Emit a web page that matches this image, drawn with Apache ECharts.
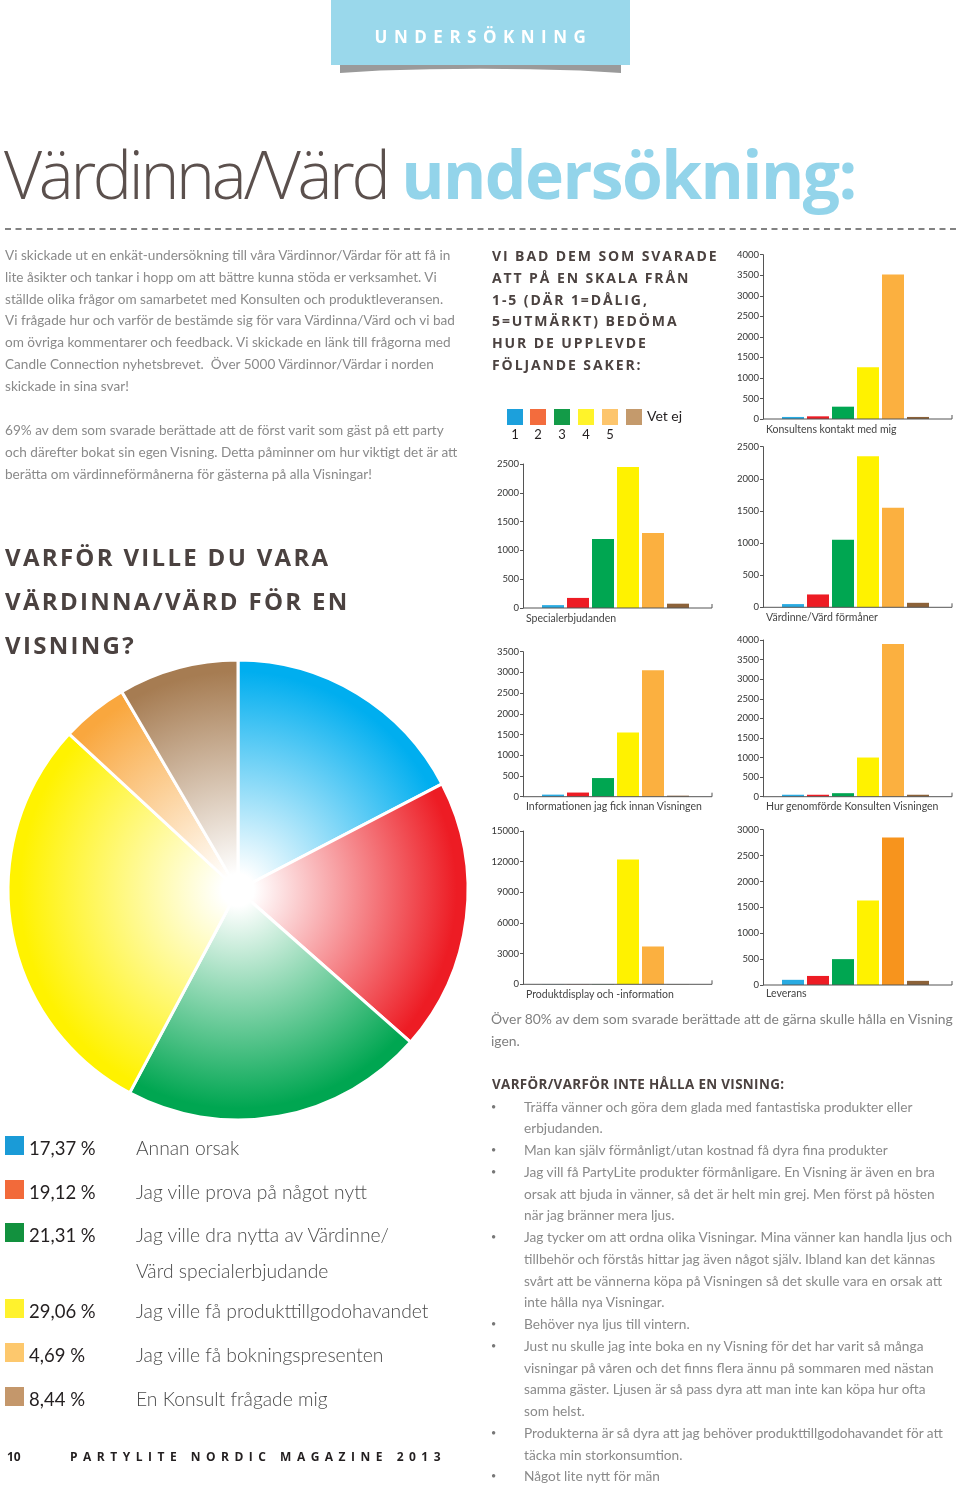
<!DOCTYPE html>
<html><head><meta charset="utf-8">
<script src="https://cdn.jsdelivr.net/npm/echarts@6/dist/echarts.min.js"></script>
<style>
body{margin:0;width:960px;height:1485px;position:relative;background:#fff;overflow:hidden;font-family:'Lato','Open Sans',sans-serif;}
#chart{position:absolute;left:0;top:0;width:960px;height:1485px;}
.t{position:absolute;white-space:pre;z-index:2;}
.body{font-family:'Lato',sans-serif;font-weight:400;color:#8a8a8a;}
.head{font-family:'Open Sans',sans-serif;font-weight:700;color:#4b4240;}
.sq{position:absolute;z-index:2;}
</style>
</head><body>
<div id="chart"></div>

<div class="t head" style="left:331px;top:24px;width:299px;text-align:center;font-size:17px;line-height:26px;letter-spacing:6.5px;color:#fff;text-indent:6px">UNDERSÖKNING</div>
<div class="t" style="left:4px;top:131px;font-size:66px;line-height:84px;font-family:'Open Sans',sans-serif;"><span style="font-weight:300;color:#5b504d;letter-spacing:-3.3px">Värdinna/Värd </span><span style="font-weight:700;color:#93d4ea;letter-spacing:-1.6px">undersökning:</span></div>

<div class="t body" style="left:5px;top:245px;font-size:13.6px;line-height:21.8px">Vi skickade ut en enkät-undersökning till våra Värdinnor/Värdar för att få in
lite åsikter och tankar i hopp om att bättre kunna stöda er verksamhet. Vi
ställde olika frågor om samarbetet med Konsulten och produktleveransen.
Vi frågade hur och varför de bestämde sig för vara Värdinna/Värd och vi bad
om övriga kommentarer och feedback. Vi skickade en länk till frågorna med
Candle Connection nyhetsbrevet.  Över 5000 Värdinnor/Värdar i norden
skickade in sina svar!</div>
<div class="t body" style="left:5px;top:420px;font-size:13.6px;line-height:21.8px">69% av dem som svarade berättade att de först varit som gäst på ett party
och därefter bokat sin egen Visning. Detta påminner om hur viktigt det är att
berätta om värdinneförmånerna för gästerna på alla Visningar!</div>

<div class="t head" style="left:5px;top:535px;font-size:24px;line-height:44px;letter-spacing:2.3px">VARFÖR VILLE DU VARA
VÄRDINNA/VÄRD FÖR EN
VISNING?</div>

<div class="t head" style="left:492px;top:245px;font-size:14px;line-height:21.8px;letter-spacing:1.9px">VI BAD DEM SOM SVARADE
ATT PÅ EN SKALA FRÅN
1-5 (DÄR 1=DÅLIG,
5=UTMÄRKT) BEDÖMA
HUR DE UPPLEVDE
FÖLJANDE SAKER:</div>

<div id="scaleLegend"></div>
<div id="barLabels"></div>

<div class="t body" style="left:491px;top:1008px;font-size:13.9px;line-height:22px;color:#808080">Över 80% av dem som svarade berättade att de gärna skulle hålla en Visning
igen.</div>
<div class="t head" style="left:492px;top:1074px;font-size:13.4px;line-height:20px;letter-spacing:0.35px">VARFÖR/VARFÖR INTE HÅLLA EN VISNING:</div>
<div id="reasons"></div>

<div id="pieLegend"></div>

<div class="t head" style="left:7px;top:1448px;font-size:12px;line-height:18px;color:#231f20">10</div>
<div class="t head" style="left:70px;top:1448px;font-size:12px;line-height:18px;letter-spacing:5.5px;color:#231f20">PARTYLITE NORDIC MAGAZINE 2013</div>

<script>
// ---------- DATA ----------
const scaleCategories = ['1', '2', '3', '4', '5', 'Vet ej'];
const konsultensKontakt = [50, 65, 300, 1260, 3520, 50];
const specialerbjudanden = [50, 175, 1200, 2450, 1300, 75];
const vardinneFormaner = [50, 200, 1050, 2350, 1550, 70];
const informationen = [50, 100, 450, 1550, 3050, 25];
const hurGenomforde = [50, 50, 90, 1000, 3900, 50];
const produktdisplay = [20, 20, 30, 12200, 3700, 20];
const leverans = [100, 175, 500, 1630, 2850, 80];
const barChartTitles = ['Konsultens kontakt med mig', 'Specialerbjudanden', 'Värdinne/Värd förmåner',
  'Informationen jag fick innan Visningen', 'Hur genomförde Konsulten Visningen',
  'Produktdisplay och -information', 'Leverans'];
const axisMaxima = [4000, 2500, 2500, 3500, 4000, 15000, 3000];
const axisSteps = [500, 500, 500, 500, 500, 3000, 500];

const pieNames = ['Annan orsak', 'Jag ville prova på något nytt',
  'Jag ville dra nytta av Värdinne/\nVärd specialerbjudande', 'Jag ville få produkttillgodohavandet',
  'Jag ville få bokningspresenten', 'En Konsult frågade mig'];
const piePercent = [17.37, 19.12, 21.31, 29.06, 4.69, 8.44];

const reasons = [
  ['Träffa vänner och göra dem glada med fantastiska produkter eller', 'erbjudanden.'],
  ['Man kan själv förmånligt/utan kostnad få dyra fina produkter'],
  ['Jag vill få PartyLite produkter förmånligare. En Visning är även en bra', 'orsak att bjuda in vänner, så det är helt min grej. Men först på hösten', 'när jag bränner mera ljus.'],
  ['Jag tycker om att ordna olika Visningar. Mina vänner kan handla ljus och', 'tillbehör och förstås hittar jag även något själv. Ibland kan det kännas', 'svårt att be vännerna köpa på Visningen så det skulle vara en orsak att', 'inte hålla nya Visningar.'],
  ['Behöver nya ljus till vintern.'],
  ['Just nu skulle jag inte boka en ny Visning för det har varit så många', 'visningar på våren och det finns flera ännu på sommaren med nästan', 'samma gäster. Ljusen är så pass dyra att man inte kan köpa hur ofta', 'som helst.'],
  ['Produkterna är så dyra att jag behöver produkttillgodohavandet för att', 'täcka min storkonsumtion.'],
  ['Något lite nytt för män']
];

// ---------- STYLE / LAYOUT ----------
const barColors = ['#29abe2', '#ed1c24', '#00a651', '#fff200', '#fbb040', '#8c6239'];
const leveransColors = ['#29abe2', '#ed1c24', '#00a651', '#fff200', '#f7941d', '#8c6239'];
const scaleLegendColors = ['#1ca0dc', '#f36c3d', '#139b48', '#fff32a', '#fdc56c', '#c49a6c'];
const pieColors = ['#00aeef', '#ed1c24', '#00a651', '#fff200', '#f9a73e', '#a67c52'];
const pieLegendColors = ['#1a9bd7', '#f26a3a', '#12913e', '#fff22d', '#fdc86d', '#c4976b'];

const panelData = [konsultensKontakt, specialerbjudanden, vardinneFormaner, informationen, hurGenomforde, produktdisplay, leverans];
const panels = [
  {axisX: 763, top: 254.7, zero: 419, labelY: 429},
  {axisX: 523, top: 464, zero: 608, labelY: 618},
  {axisX: 763, top: 446.7, zero: 607.3, labelY: 617},
  {axisX: 523, top: 651.7, zero: 796.7, labelY: 806},
  {axisX: 763, top: 640, zero: 796.7, labelY: 806},
  {axisX: 523, top: 831, zero: 984.3, labelY: 994},
  {axisX: 763, top: 829.7, zero: 985, labelY: 993}
];
const AXIS_LEN = 189, LEAD = 17.5, SLOT_W = 150;

const chart = echarts.init(document.getElementById('chart'), null, {renderer: 'canvas'});
const grids = [], xAxes = [], yAxes = [], series = [], graphics = [];

// header decorations
graphics.push({type: 'polygon', shape: {points: [[340, 63], [621, 63], [621, 73], [580, 70.5], [530, 69.2], [480, 68.8], [430, 69.2], [380, 70.5], [340, 73]]}, style: {fill: '#9a9a9a'}, z: 1});
graphics.push({type: 'rect', shape: {x: 331, y: 0, width: 299, height: 65}, style: {fill: '#9ad8eb'}, z: 2});
graphics.push({type: 'line', shape: {x1: 5, y1: 229, x2: 956, y2: 229}, style: {stroke: '#5a5a5a', lineWidth: 1.3, lineDash: [6, 4.5]}, z: 1});

panels.forEach((p, i) => {
  grids.push({left: p.axisX + LEAD, top: p.top, width: SLOT_W, height: p.zero - p.top, outerBoundsMode: 'none', containLabel: false});
  xAxes.push({gridIndex: i, type: 'category', data: scaleCategories, axisLine: {show: false}, axisTick: {show: false}, axisLabel: {show: false}, splitLine: {show: false}});
  yAxes.push({gridIndex: i, type: 'value', min: 0, max: axisMaxima[i], interval: axisSteps[i], offset: LEAD,
    axisLine: {show: true, lineStyle: {color: '#555', width: 1}},
    axisTick: {show: true, length: 3, lineStyle: {color: '#555'}},
    axisLabel: {fontSize: 9.5, color: '#333', margin: 4, fontFamily: 'Lato', formatter: v => String(v)},
    splitLine: {show: false}});
  const cols = i === 6 ? leveransColors : barColors;
  series.push({type: 'bar', xAxisIndex: i, yAxisIndex: i, data: panelData[i], barWidth: 22, silent: true,
    itemStyle: {color: prm => cols[prm.dataIndex]}});
  graphics.push({type: 'polyline', shape: {points: [[p.axisX, p.zero], [p.axisX + AXIS_LEN, p.zero], [p.axisX + AXIS_LEN, p.zero - 4]]},
    style: {stroke: '#555', lineWidth: 1, fill: null}, z: 5});
});

const PIE_C = [238, 890], PIE_R = 230;
series.push({type: 'pie', center: PIE_C, radius: PIE_R, startAngle: 90, clockwise: true, silent: true,
  label: {show: false}, labelLine: {show: false},
  itemStyle: {borderColor: '#fff', borderWidth: 3},
  data: piePercent.map((v, i) => ({value: v, name: pieNames[i], itemStyle: {
    color: {type: 'radial', x: PIE_C[0], y: PIE_C[1], r: PIE_R, global: true,
      colorStops: [{offset: 0, color: '#ffffff'}, {offset: 0.07, color: '#ffffff'}, {offset: 0.95, color: pieColors[i]}, {offset: 1, color: pieColors[i]}]}}}))
});

chart.setOption({animation: false, grid: grids, xAxis: xAxes, yAxis: yAxes, series: series, graphic: graphics});

// ---------- HTML TEXT / LEGENDS ----------
function addDiv(parent, cls, style, text) {
  const d = document.createElement('div');
  d.className = cls; d.setAttribute('style', style); if (text !== undefined) d.textContent = text;
  document.getElementById(parent).appendChild(d); return d;
}
const legX = [507, 530, 554, 578, 602, 626];
scaleLegendColors.forEach((c, i) => {
  addDiv('scaleLegend', 'sq', `left:${legX[i]}px;top:409px;width:16px;height:16px;background:${c}`);
  if (i < 5) addDiv('scaleLegend', 't', `left:${legX[i] - 2}px;top:425px;width:20px;text-align:center;font-size:13px;line-height:18px;color:#231f20;font-family:Lato`, scaleCategories[i]);
});
addDiv('scaleLegend', 't', 'left:647px;top:407px;font-size:14px;line-height:18px;color:#231f20;font-family:Lato', scaleCategories[5]);

panels.forEach((p, i) => {
  addDiv('barLabels', 't body', `left:${p.axisX + 3}px;top:${p.labelY - 8}px;font-size:10.5px;line-height:16px;color:#444`, barChartTitles[i]);
});

let ln = 0;
const R_TOP = 1095.5, R_LH = 21.75;
reasons.forEach(item => {
  addDiv('reasons', 't body', `left:491px;top:${R_TOP + ln * R_LH}px;font-size:9px;line-height:${R_LH}px;color:#777`, '•');
  addDiv('reasons', 't body', `left:524px;top:${R_TOP + ln * R_LH}px;font-size:13.7px;line-height:${R_LH}px`, item.join('\n'));
  ln += item.length;
});

const rowY = [1148, 1192, 1235, 1311, 1355, 1399];
piePercent.forEach((v, i) => {
  addDiv('pieLegend', 'sq', `left:5px;top:${rowY[i] - 12}px;width:19px;height:19px;background:${pieLegendColors[i]}`);
  addDiv('pieLegend', 't', `left:29px;top:${rowY[i] - 13}px;font-size:18.5px;line-height:26px;color:#231f20;font-family:Lato`, v.toFixed(2).replace('.', ',') + ' %');
  addDiv('pieLegend', 't body', `left:136px;top:${rowY[i] - 18}px;font-size:19.3px;line-height:36px;color:#4a4a4a;font-weight:300`, pieNames[i]);
});
</script>
</body></html>
